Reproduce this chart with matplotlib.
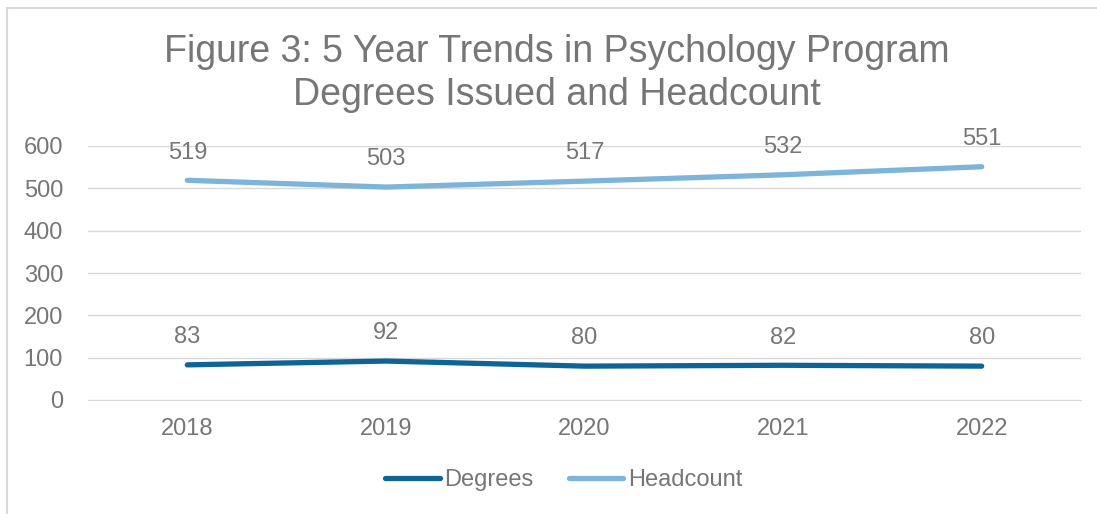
import matplotlib.pyplot as plt
from matplotlib.patches import Rectangle

plt.rcParams['font.family'] = ['Liberation Sans', 'DejaVu Sans']

years = ['2018', '2019', '2020', '2021', '2022']
degrees = [83, 92, 80, 82, 80]
headcount = [519, 503, 517, 532, 551]

grey = '#767676'
dark = '#0f6496'
light = '#7db4da'

fig = plt.figure(figsize=(10.97, 5.14), dpi=100)
ax = fig.add_axes([88/1097, 114/514, 993/1097, 254/514])

x = range(len(years))
ax.plot(x, degrees, color=dark, lw=3.8, solid_capstyle='round', label='Degrees')
ax.plot(x, headcount, color=light, lw=3.8, solid_capstyle='round', label='Headcount')

for xi, v in zip(x, degrees):
    ax.annotate(str(v), (xi, v), xytext=(0, 20), textcoords='offset points',
                ha='center', va='center', fontsize=17, color=grey)
for xi, v in zip(x, headcount):
    ax.annotate(str(v), (xi, v), xytext=(0, 20), textcoords='offset points',
                ha='center', va='center', fontsize=17, color=grey)

ax.set_xlim(-0.5, 4.5)
ax.set_ylim(0, 600)
ax.set_yticks(range(0, 601, 100))
ax.set_xticks(list(x))
ax.set_xticklabels(years)
ax.grid(axis='y', color='#d9d9d9', lw=1)
ax.set_axisbelow(True)
for s in ['top', 'right', 'left']:
    ax.spines[s].set_visible(False)
ax.spines['bottom'].set_color('#d9d9d9')
ax.tick_params(length=0, labelsize=17, labelcolor=grey)
ax.tick_params(axis='y', pad=18)
ax.tick_params(axis='x', pad=13)

fig.text(0.508, 0.857, 'Figure 3: 5 Year Trends in Psychology Program\nDegrees Issued and Headcount',
         ha='center', va='center', fontsize=27, color=grey, linespacing=1.27)

fig.legend(loc='center', bbox_to_anchor=(0.514, 0.066), ncol=2, frameon=False,
           fontsize=17, labelcolor=grey, handlelength=2.3, handletextpad=0.2,
           columnspacing=1.5)

fig.patches.append(Rectangle((7/1097, -0.1), 1.2, (514-8)/514 + 0.1,
                             transform=fig.transFigure, fill=False,
                             edgecolor='#d9d9d9', lw=1.5))

fig.savefig('out.png', dpi=100)
